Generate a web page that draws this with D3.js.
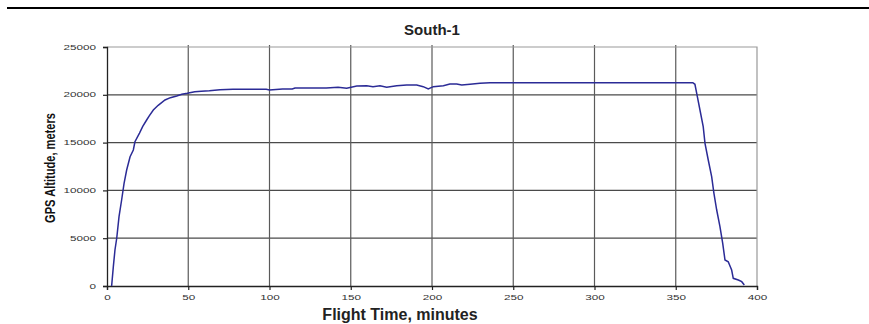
<!DOCTYPE html>
<html>
<head>
<meta charset="utf-8">
<script src="https://cdnjs.cloudflare.com/ajax/libs/d3/7.8.5/d3.min.js"></script>
<style>
  body { margin: 0; background: #fff; }
  text { font-family: Arial, "Liberation Sans", sans-serif; }
</style>
</head>
<body>
<div id="chart"></div>
<script>
const width = 869;
const height = 324;

// flight time (minutes) and GPS altitude (meters)
const minutes = [
  2.8, 2.9, 3.9, 4.9, 6, 7.4, 9, 10.5, 12.1, 14.2, 16.2, 17.2, 20, 22, 24.4, 26, 28.5,
  31.5, 35.7, 39, 42.9, 46, 49.4, 54, 58, 63, 69.5, 77.5, 98, 100, 108, 114, 115.7,
  124, 135, 142.2, 147.5, 153.7, 159.8, 163.7, 168, 172.1, 178.3, 184.4, 190.6, 194.6,
  197.7, 200.8, 207, 211, 215.2, 218.3, 223.4, 229.5, 235.7, 300, 360.5, 361.8, 362.9,
  364.9, 366.9, 368, 370, 372.1, 373.5, 375.2, 377.2, 378.9, 380.3, 382.3, 384.4,
  385.4, 388.5, 390.6, 392.2
];
const altitude = [
  0, 100, 2020, 3766, 5021, 7250, 8996, 10740, 12133, 13525, 14225, 15090, 16000, 16700, 17364, 17800, 18410,
  18900, 19456, 19700, 19874, 20050, 20153, 20324, 20380, 20429, 20533, 20575, 20575, 20500, 20600, 20600, 20711,
  20711, 20711, 20784, 20680, 20920, 20951, 20850, 20951, 20800, 20951, 21025, 21025, 20850,
  20607, 20850, 20951, 21130, 21130, 21025, 21100, 21203, 21265, 21265, 21265, 21100, 20150,
  18410, 16663, 14925, 13180, 11433, 9697, 7950, 6200, 4466, 2720, 2540, 1673,
  805, 628, 450, 105
];
const xTicks = [0, 50, 100, 150, 200, 250, 300, 350, 400];
const yTicks = [0, 5000, 10000, 15000, 20000, 25000];

const points = minutes.map((m, i) => [m, altitude[i]]);

const svg = d3
  .select("#chart")
  .append("svg")
  .attr("width", width)
  .attr("height", height);

svg.append("rect").attr("width", width).attr("height", height).attr("fill", "#fff");

// heavy rule at the top of the page
svg
  .append("line")
  .attr("x1", 7)
  .attr("x2", width)
  .attr("y1", 8)
  .attr("y2", 8)
  .attr("stroke", "#000")
  .attr("stroke-width", 2);

const xScale = d3.scaleLinear().domain([0, 400]).range([107, 757]);
const yScale = d3.scaleLinear().domain([0, 25000]).range([286, 47]);

// gridlines
svg
  .append("g")
  .selectAll("line")
  .data(yTicks.slice(1, -1))
  .enter()
  .append("line")
  .attr("x1", xScale(0))
  .attr("x2", xScale(400))
  .attr("y1", (d) => yScale(d))
  .attr("y2", (d) => yScale(d))
  .attr("stroke", "#4a4a4a")
  .attr("stroke-width", 1.2);

svg
  .append("g")
  .selectAll("line")
  .data(xTicks.slice(1, -1))
  .enter()
  .append("line")
  .attr("x1", (d) => xScale(d))
  .attr("x2", (d) => xScale(d))
  .attr("y1", yScale(25000) - 2)
  .attr("y2", yScale(0))
  .attr("stroke", "#5a5a5a")
  .attr("stroke-width", 1.2);

// plot border top and right (grey)
svg
  .append("path")
  .attr("d", `M${xScale(0)},${yScale(25000)}H${xScale(400)}V${yScale(0)}`)
  .attr("fill", "none")
  .attr("stroke", "#999")
  .attr("stroke-width", 1.2);

// axes
const xAxis = d3.axisBottom(xScale).tickValues(xTicks).tickSize(4).tickPadding(5);
const yAxis = d3
  .axisLeft(yScale)
  .tickValues(yTicks)
  .tickFormat(d3.format("d"))
  .tickSize(4)
  .tickPadding(0);

const gx = svg
  .append("g")
  .attr("id", "x-axis")
  .attr("transform", `translate(0,${yScale(0)})`)
  .call(xAxis);

const gy = svg
  .append("g")
  .attr("id", "y-axis")
  .attr("transform", `translate(${xScale(0)},0)`)
  .call(yAxis);

[gx, gy].forEach((g) => {
  g.select(".domain").attr("stroke", "#222").attr("stroke-width", 1.3);
  g.selectAll(".tick line").attr("stroke", "#222").attr("stroke-width", 1.2);
  g.selectAll(".tick text")
    .attr("fill", "#333")
    .style("font-size", "6.5px")
    .style("font-family", "Arial, 'Liberation Sans', sans-serif");
});

// the small tick labels look stretched sideways
const stretch = 1.8;
gy.selectAll(".tick text").attr("x", -11 / stretch).attr("transform", `scale(${stretch},1)`);
gx.selectAll(".tick text").attr("transform", `scale(${stretch},1)`);

// the altitude trace
const line = d3
  .line()
  .x((d) => xScale(d[0]))
  .y((d) => yScale(d[1]));

svg
  .append("path")
  .datum(points)
  .attr("d", line)
  .attr("fill", "none")
  .attr("stroke", "#2b2b96")
  .attr("stroke-width", 1.5);

// titles
svg
  .append("text")
  .attr("x", 432)
  .attr("y", 35)
  .attr("text-anchor", "middle")
  .style("font-size", "15px")
  .style("font-weight", "bold")
  .attr("fill", "#222")
  .text("South-1");

svg
  .append("text")
  .attr("x", 400)
  .attr("y", 320)
  .attr("text-anchor", "middle")
  .style("font-size", "16px")
  .style("font-weight", "bold")
  .attr("fill", "#222")
  .text("Flight Time, minutes");

svg
  .append("text")
  .attr("transform", "translate(55,168) rotate(-90) scale(0.74,1)")
  .attr("text-anchor", "middle")
  .style("font-size", "15px")
  .style("font-weight", "bold")
  .attr("fill", "#111")
  .text("GPS Altitude, meters");
</script>
</body>
</html>
